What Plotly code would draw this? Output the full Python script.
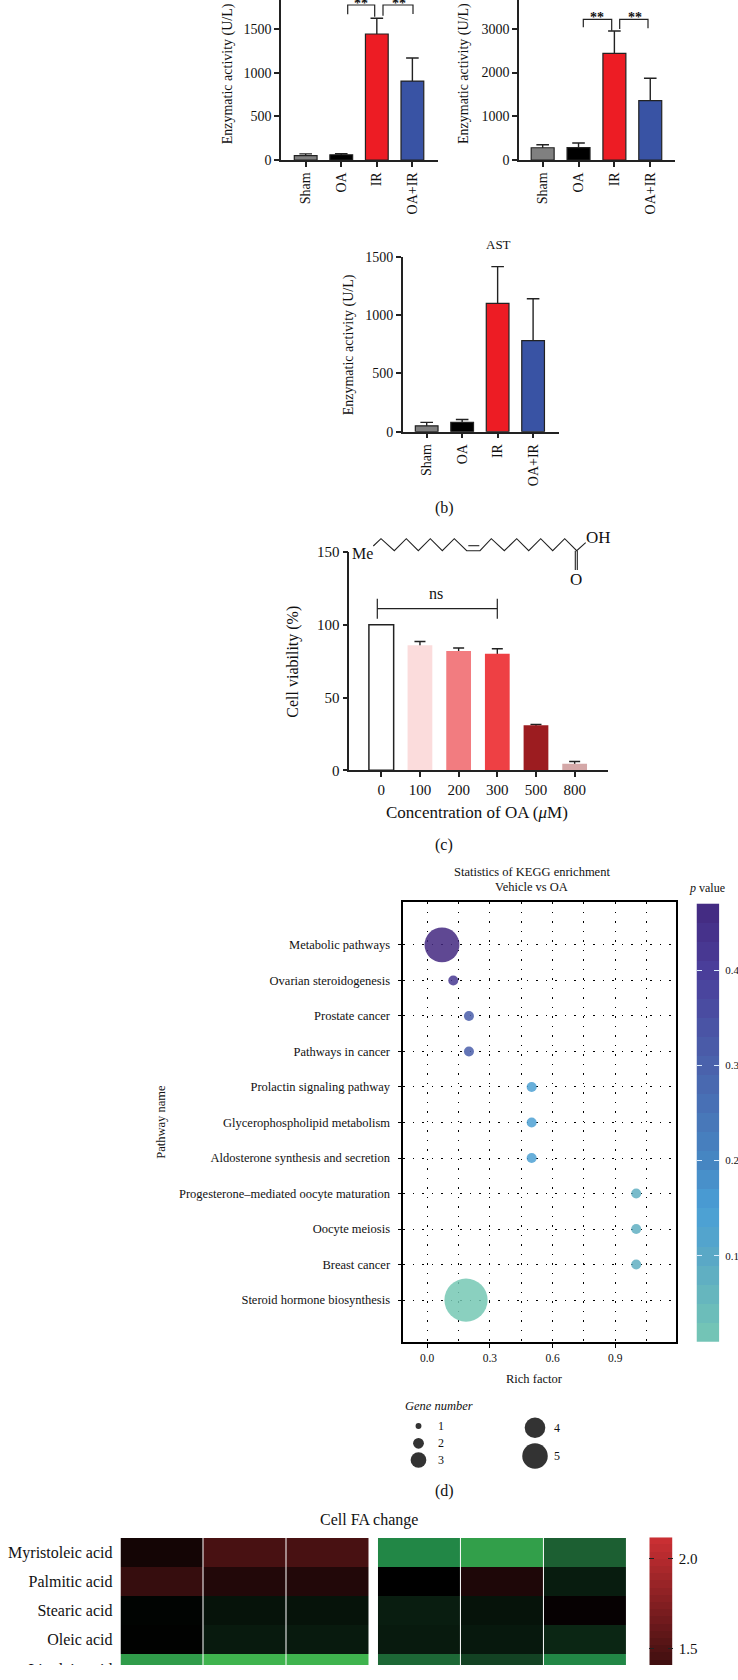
import numpy as np
import plotly.graph_objects as go

W, H = 738, 1700
FONT = "Liberation Serif"
INK = "#222222"

# panels a / b
groups = ["Sham", "OA", "IR", "OA+IR"]
group_colors = ["#808080", "#000000", "#ED1C24", "#3953A4"]
alt_values = [50, 60, 1445, 905]
alt_tops = [70, 72, 1625, 1170]
ldh_values = [280, 285, 2440, 1360]
ldh_tops = [350, 390, 2950, 1870]
ast_values = [50, 80, 1100, 780]
ast_tops = [80, 105, 1415, 1140]

# panel c
doses = ["0", "100", "200", "300", "500", "800"]
dose_values = [100, 86, 82, 80, 31, 4.5]
dose_tops = [100, 88.5, 84, 83.5, 31.5, 6]
dose_colors = ["#FFFFFF", "#FBDCDC", "#F27C80", "#EE4044", "#9C1C20", "#D4A8A8"]

# panel d
pathways = ["Metabolic pathways", "Ovarian steroidogenesis", "Prostate cancer", "Pathways in cancer",
            "Prolactin signaling pathway", "Glycerophospholipid metabolism",
            "Aldosterone synthesis and secretion", "Progesterone–mediated oocyte maturation",
            "Oocyte meiosis", "Breast cancer", "Steroid hormone biosynthesis"]
rich_factor = [0.071, 0.125, 0.2, 0.2, 0.5, 0.5, 0.5, 1.0, 1.0, 1.0, 0.186]
gene_number = [4, 1, 1, 1, 1, 1, 1, 1, 1, 1, 5]
p_value = [0.47, 0.42, 0.31, 0.31, 0.14, 0.14, 0.14, 0.08, 0.08, 0.08, 0.01]
p_bins = [0.02, 0.04, 0.06, 0.08, 0.10, 0.12, 0.14, 0.16, 0.18, 0.20, 0.22, 0.24,
          0.26, 0.28, 0.30, 0.32, 0.34, 0.36, 0.38, 0.40, 0.42, 0.44, 0.46]
key_genes = [1, 2, 3, 4, 5]
key_col = [418.5, 418.5, 418.5, 535, 535]
key_row = [1426, 1443.3, 1460, 1427.7, 1456]

# panel e
acids = ["Myristoleic acid", "Palmitic acid", "Stearic acid", "Oleic acid", "Linoleic acid"]
fa_left = [[1.2, 1.46, 1.46], [1.37, 1.27, 1.27], [1.08, 0.99, 0.99], [1.09, 0.95, 0.95], [0.20, 0.06, 0.06]]
fa_right = [[0.32, 0.18, 0.55], [1.10, 1.25, 0.94], [0.93, 0.99, 1.13], [0.95, 0.96, 0.88], [0.50, 0.72, 0.32]]

P_MIN, P_MAX = 0.0093, 0.4715
P_SCALE = [[0, "#76C8B4"], [0.195, "#5AA8C6"], [0.304, "#4A9FD6"], [0.413, "#4686C2"],
           [0.629, "#4A62AC"], [0.845, "#4A3E9A"], [1, "#43287F"]]
FA_SCALE = [[0, "rgb(70,190,80)"], [0.151, "rgb(34,135,70)"], [0.26, "rgb(28,95,50)"], [0.519, "rgb(0,0,0)"],
            [1, "rgb(205,48,52)"]]


def fx(px):
    return px / W


def fy(py):
    return 1 - py / H


def label(x, y, text, size=14, angle=0, xanchor="center", bold=False):
    if bold:
        text = "<b>" + text + "</b>"
    return dict(x=fx(x), y=fy(y), xref="paper", yref="paper", text=text, showarrow=False,
                font=dict(family=FONT, size=size, color="#111111"), textangle=angle,
                xanchor=xanchor, yanchor="middle", borderpad=0)


def poly(points, width=1.2):
    d = "M " + " L ".join(f"{fx(x):.5f},{fy(y):.5f}" for x, y in points)
    return dict(type="path", path=d, xref="paper", yref="paper", line=dict(color=INK, width=width))


def bar_axes(n, left, right, top, bottom, xrange, yrange, dtick, angle, size):
    axis_style = dict(showline=True, linecolor=INK, linewidth=1.5, ticks="outside", ticklen=5, tickwidth=1.5,
                      tickcolor=INK, showgrid=False, zeroline=False,
                      tickfont=dict(family=FONT, size=size, color="#111111"))
    return {f"xaxis{n}": dict(domain=[fx(left), fx(right)], anchor=f"y{n}", range=xrange, type="category",
                              tickangle=angle, **axis_style),
            f"yaxis{n}": dict(domain=[fy(bottom), fy(top)], anchor=f"x{n}", range=yrange, dtick=dtick, **axis_style)}


def add_bars(fig, n, cats, values, tops, colors, line_widths, cap=6.3):
    # error bars go on a clear bar underneath, the filled bar then hides their lower cap
    fig.add_trace(go.Bar(x=cats, y=values, width=0.64, xaxis=f"x{n}", yaxis=f"y{n}", showlegend=False,
                         marker=dict(color="rgba(0,0,0,0)", line=dict(width=0)),
                         error_y=dict(type="data", symmetric=False, array=[t - v for t, v in zip(tops, values)],
                                      arrayminus=[v * 0.5 for v in values], color=INK, thickness=1.4, width=cap)))
    fig.add_trace(go.Bar(x=cats, y=values, width=0.64, xaxis=f"x{n}", yaxis=f"y{n}", showlegend=False,
                         marker=dict(color=colors, line=dict(color=INK, width=line_widths))))


fig = go.Figure()
layout = {}

add_bars(fig, 1, groups, alt_values, alt_tops, group_colors, 1.2)
layout.update(bar_axes(1, 281, 438, 0, 160, [-0.694, 3.72], [0, 1835], 500, -90, 14))
add_bars(fig, 2, groups, ldh_values, ldh_tops, group_colors, 1.2)
layout.update(bar_axes(2, 519, 675, 0, 160, [-0.66, 3.69], [0, 3660], 1000, -90, 14))
add_bars(fig, 3, groups, ast_values, ast_tops, group_colors, 1.2)
layout.update(bar_axes(3, 402.7, 559, 256.7, 431.7, [-0.676, 3.73], [0, 1500], 500, -90, 14))
add_bars(fig, 4, doses, dose_values, dose_tops, dose_colors, [1.5, 0, 0, 0, 0, 0], cap=5.5)
layout.update(bar_axes(4, 349.3, 608.3, 552, 770.3, [-0.827, 5.87], [0, 150], 50, 0, 15))

# bubble chart
grid_dash = "1.5px,8px"
fig.add_trace(go.Scatter(x=rich_factor, y=pathways, mode="markers", xaxis="x5", yaxis="y5", showlegend=False,
                         marker=dict(color=p_value, colorscale=P_SCALE, cmin=P_MIN, cmax=P_MAX, opacity=0.85,
                                     size=[1.7 + 8.3 * g for g in gene_number], line=dict(width=0))))
layout["xaxis5"] = dict(domain=[fx(403.3), fx(675.5)], anchor="y5", range=[-0.114, 1.188],
                        tickvals=[0, 0.3, 0.6, 0.9], ticktext=["0.0", "0.3", "0.6", "0.9"],
                        showline=True, mirror=True, linecolor="#000000", linewidth=1.5, zeroline=False,
                        ticks="outside", ticklen=4, tickwidth=1.2, tickcolor="#000000",
                        tickfont=dict(family=FONT, size=11.5, color="#111111"),
                        showgrid=True, gridcolor="#000000", gridwidth=1, griddash=grid_dash,
                        minor=dict(tickvals=[0.15, 0.45, 0.75, 1.05], showgrid=True, gridcolor="#000000",
                                   gridwidth=1, griddash=grid_dash, ticks=""))
layout["yaxis5"] = dict(domain=[fy(1342), fy(902.3)], anchor="x5", type="category", categoryorder="array",
                        categoryarray=pathways, range=[11.18, -1.2],
                        showline=True, mirror=True, linecolor="#000000", linewidth=1.5, zeroline=False,
                        ticks="outside", ticklen=4, tickwidth=1.2, tickcolor="#000000", ticklabelstandoff=5,
                        tickfont=dict(family=FONT, size=12.5, color="#111111"),
                        showgrid=True, gridcolor="#000000", gridwidth=1, griddash=grid_dash)

# p value scale
fig.add_trace(go.Heatmap(z=[[p] for p in p_bins], y=p_bins, x=[0], xaxis="x6", yaxis="y6", showscale=False,
                         colorscale=P_SCALE, zmin=P_MIN, zmax=P_MAX))
layout["xaxis6"] = dict(domain=[fx(696.5), fx(719.2)], anchor="y6", visible=False)
layout["yaxis6"] = dict(domain=[fy(1342), fy(902.3)], anchor="x6", side="right", range=[P_MIN, P_MAX],
                        tickvals=[0.1, 0.2, 0.3, 0.4], ticks="inside", ticklen=5, tickwidth=1, tickcolor="#DDEEFF",
                        mirror="ticks", showline=False, showgrid=False, zeroline=False, ticklabelstandoff=5,
                        tickfont=dict(family=FONT, size=11, color="#111111"))

# gene number key
fig.add_trace(go.Scatter(x=key_col, y=key_row, mode="markers", xaxis="x7", yaxis="y7", showlegend=False,
                         marker=dict(color="#333333", opacity=1, size=[1 + 4.9 * g for g in key_genes],
                                     line=dict(width=0))))
layout["xaxis7"] = dict(domain=[fx(400), fx(580)], anchor="y7", range=[400, 580], visible=False)
layout["yaxis7"] = dict(domain=[fy(1475), fy(1412)], anchor="x7", range=[1475, 1412], visible=False)

# heat map
for n, z in ((8, fa_left), (9, fa_right)):
    fig.add_trace(go.Heatmap(z=z, x=[0, 1, 2], y=acids, xaxis=f"x{n}", yaxis=f"y{n}", showscale=False,
                             colorscale=FA_SCALE, zmin=0, zmax=2.12, xgap=1))
layout["xaxis8"] = dict(domain=[fx(120.5), fx(369.4)], anchor="y8", visible=False)
layout["xaxis9"] = dict(domain=[fx(377.9), fx(626.8)], anchor="y9", visible=False)
layout["yaxis8"] = dict(domain=[fy(1683.5), fy(1538)], anchor="x8", range=[4.5, -0.5], ticks="", showgrid=False,
                        zeroline=False, showline=False, ticklabelstandoff=7,
                        tickfont=dict(family=FONT, size=16, color="#111111"))
layout["yaxis9"] = dict(domain=[fy(1683.5), fy(1538)], anchor="x9", range=[4.5, -0.5], visible=False)

fa_levels = np.arange(1.3, 2.14, 0.04)
fig.add_trace(go.Heatmap(z=[[v] for v in fa_levels], y=fa_levels, x=[0], xaxis="x10", yaxis="y10", showscale=False,
                         colorscale=FA_SCALE, zmin=0, zmax=2.12))
layout["xaxis10"] = dict(domain=[fx(649.3), fx(672.7)], anchor="y10", visible=False)
layout["yaxis10"] = dict(domain=[fy(1683.5), fy(1537.3)], anchor="x10", side="right", range=[1.305, 2.12],
                         tickvals=[1.5, 2.0], ticktext=["1.5", "2.0"], ticks="inside", ticklen=5, tickwidth=1,
                         tickcolor="#222222", mirror="ticks", showline=False, showgrid=False, zeroline=False,
                         ticklabelstandoff=5, tickfont=dict(family=FONT, size=15, color="#111111"))

annotations = [
    label(228.3, 74, "Enzymatic activity (U/L)", angle=-90),
    label(464, 74, "Enzymatic activity (U/L)", angle=-90),
    label(361, 4, "**", bold=True), label(399, 4, "**", bold=True),
    label(597.3, 17.5, "**", bold=True), label(634.7, 17.5, "**", bold=True),
    label(499, 245, "AST", size=13),
    label(349.3, 345, "Enzymatic activity (U/L)", angle=-90),
    label(444, 508, "(b)", size=16),
    label(293, 661.7, "Cell viability (%)", size=16, angle=-90),
    label(435.7, 594, "ns", size=16),
    label(362.8, 553, "Me", size=16),
    label(598.3, 537.3, "OH", size=17),
    label(576, 579, "O", size=17),
    label(477, 812.7, "Concentration of OA (<i>μ</i>M)", size=17),
    label(444, 845, "(c)", size=16),
    label(531.8, 872, "Statistics of KEGG enrichment", size=12.5),
    label(531.8, 886.7, "Vehicle vs OA", size=12.5),
    label(706.7, 888.3, "<i>p</i> value", size=12),
    label(160.7, 1122, "Pathway name", size=12.5, angle=-90),
    label(534, 1378.7, "Rich factor", size=12.5),
    label(403.5, 1405.7, "<i>Gene number</i>", size=12.5, xanchor="left"),
    label(444, 1491, "(d)", size=16),
    label(369.4, 1520, "Cell FA change", size=16),
]
for (x, y), g in zip(zip(key_col, key_row), key_genes):
    annotations.append(label(x + 22.3, y, str(g), size=12))

shapes = [
    poly([(347.7, 14.3), (347.7, 5), (374.7, 5), (374.7, 16.7)]),
    poly([(383, 15.7), (383, 5), (413, 5), (413, 14)]),
    poly([(583.3, 27.3), (583.3, 19.3), (611.7, 19.3), (611.7, 30.7)]),
    poly([(619.7, 29), (619.7, 19.3), (648, 19.3), (648, 28.3)]),
    # ns bracket
    poly([(377.3, 608.7), (497.3, 608.7)]),
    poly([(377.3, 598.7), (377.3, 618.7)]),
    poly([(497.3, 598.7), (497.3, 618.7)]),
    # oleic acid structure
    poly([(373.3, 546), (381, 538.7), (394.3, 550.7), (406.3, 538.7), (418.3, 550.7), (430.3, 538.7),
          (442.3, 550.7), (454.3, 538.7), (466.7, 550.7), (480, 550.7), (491.3, 538.7), (504.3, 550.7),
          (516.7, 538.7), (528.7, 550.7), (540.7, 538.7), (552.7, 550.7), (564.7, 538.7), (576.7, 550.7),
          (585.7, 542.7)], width=1.1),
    poly([(468.3, 545.7), (479.3, 545.7)], width=1.1),
    poly([(575.3, 550.7), (575.3, 570)], width=1.1),
    poly([(577.3, 550.7), (577.3, 570)], width=1.1),
]

fig.update_layout(width=W, height=H, margin=dict(l=0, r=0, t=0, b=0, autoexpand=False),
                  paper_bgcolor="white", plot_bgcolor="white", barmode="overlay",
                  showlegend=False, annotations=annotations, shapes=shapes, **layout)

crop = ("document.body.style.margin='0';"
        "var d=document.querySelector('.plotly-graph-div');"
        "d.parentElement.style.cssText='height:1665px;overflow:hidden;';")
fig.write_html("out.html", post_script=crop, config={"displayModeBar": False})
